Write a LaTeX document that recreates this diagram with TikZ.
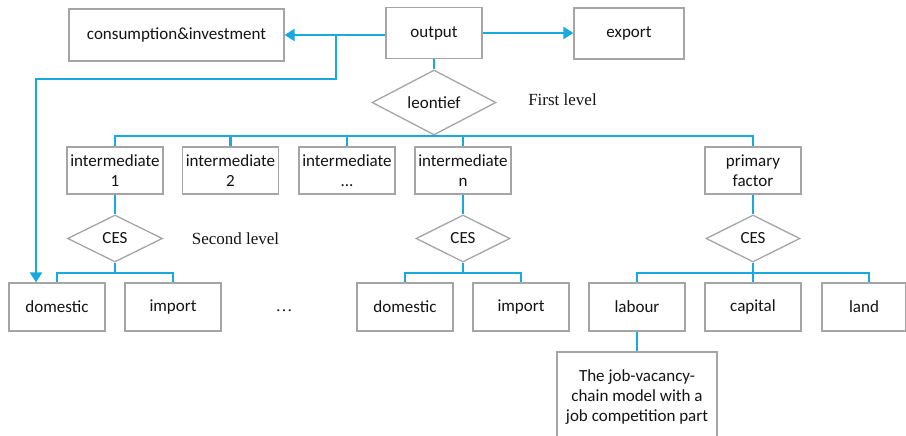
\documentclass[tikz,border=0pt]{standalone}
\usepackage{fontspec}
\setmainfont{Carlito}
\newfontfamily\serifT{Liberation Serif}
\usetikzlibrary{shapes.geometric,arrows.meta,calc}
\definecolor{lineblue}{RGB}{22,170,222}
\definecolor{boxgray}{RGB}{165,165,165}
\definecolor{txt}{RGB}{20,20,20}
\begin{document}
\begin{tikzpicture}[x=1pt,y=-1pt,
  box/.style={draw=boxgray,line width=1.3pt,fill=white,inner sep=0pt,align=center,text=txt,font=\fontsize{17}{20}\selectfont},
  dia/.style={diamond,draw=boxgray,line width=1.3pt,fill=white,inner sep=0pt,text=txt,font=\fontsize{17}{20}\selectfont},
  link/.style={draw=lineblue,line width=2.8pt},
  arr/.style={link,-{Triangle[length=10pt,width=12pt]}},
  lvl/.style={text=txt,font=\serifT\fontsize{17}{20}\selectfont,inner sep=0pt}]
\useasboundingbox (0,0) rectangle (906,436);

% top row
\node[box,minimum width=215pt,minimum height=52pt] (cons) at (176.5,35) {consumption\&investment};
\node[box,minimum width=96pt,minimum height=51pt] (out) at (434,33) {output};
\node[box,minimum width=110pt,minimum height=51pt] (exp) at (629,33.5) {export};

% first level
\node[dia,minimum width=124pt,minimum height=47pt] (leon) at (434,102.5) {leontief};
\node[lvl] (first) at (562.5,100) {First level};

% intermediate row
\node[box,minimum width=96pt,minimum height=47pt] (int1) at (115,170.5) {intermediate\\1};
\node[box,minimum width=96pt,minimum height=47pt] (int2) at (230.5,170.5) {intermediate\\2};
\node[box,minimum width=96pt,minimum height=47pt] (int3) at (347,170.5) {intermediate\\...};
\node[box,minimum width=96pt,minimum height=47pt] (intn) at (463,170.5) {intermediate\\n};
\node[box,minimum width=96pt,minimum height=47pt] (prim) at (753,170.5) {primary\\factor};

% second level
\node[dia,minimum width=95pt,minimum height=47pt] (ces1) at (115,238.5) {CES};
\node[dia,minimum width=94pt,minimum height=47pt] (cesn) at (463,238.5) {CES};
\node[dia,minimum width=94pt,minimum height=47pt] (cesp) at (753,238.5) {CES};
\node[lvl] (second) at (235.5,239) {Second level};

% bottom row
\node[box,minimum width=96pt,minimum height=48pt] (dom1) at (57,307) {domestic};
\node[box,minimum width=96pt,minimum height=48pt] (imp1) at (173,307) {import};
\node[lvl] (dots) at (284,311) {\dots};
\node[box,minimum width=96pt,minimum height=48pt] (domn) at (405,307) {domestic};
\node[box,minimum width=96pt,minimum height=48pt] (impn) at (521,307) {import};
\node[box,minimum width=96pt,minimum height=48pt] (lab) at (637,307) {labour};
\node[box,minimum width=96pt,minimum height=48pt] (cap) at (753,307) {capital};
\node[box,minimum width=84pt,minimum height=48pt] (land) at (864,307) {land};

% job box
\node[box,minimum width=160pt,minimum height=90pt] (job) at (637,397) {The job-vacancy-\\chain model with a\\job competition part};

% connectors
\draw[arr] (out.west |- cons.east) -- (cons.east);
\draw[arr] (out.east) -- (out.east -| exp.west);
\coordinate (br) at (336,35);
\coordinate (bend) at (36,79);
\draw[arr] (br) |- (bend) -- (bend |- dom1.north);

\draw[link] (out.south) -- (leon.north);
\coordinate (bus1) at (434,136);
\draw[link] (leon.south) -- (bus1);
\foreach \n in {int1,int2,int3,intn,prim}
  \draw[link] (bus1) -| (\n.north);

\draw[link] (int1.south) -- (ces1.north);
\draw[link] (intn.south) -- (cesn.north);
\draw[link] (prim.south) -- (cesp.north);

\coordinate (b1) at (115,273);
\draw[link] (ces1.south) -- (b1);
\draw[link] (b1) -| (dom1.north);
\draw[link] (b1) -| (imp1.north);

\coordinate (bn) at (463,273);
\draw[link] (cesn.south) -- (bn);
\draw[link] (bn) -| (domn.north);
\draw[link] (bn) -| (impn.north);

\coordinate (bp) at (753,273);
\draw[link] (cesp.south) -- (bp);
\draw[link] (bp) -| (lab.north);
\draw[link] (bp) -| (cap.north);
\draw[link] (bp) -| ([xshift=5pt]land.north);

\draw[link] (lab.south) -- (job.north);
\end{tikzpicture}
\end{document}
